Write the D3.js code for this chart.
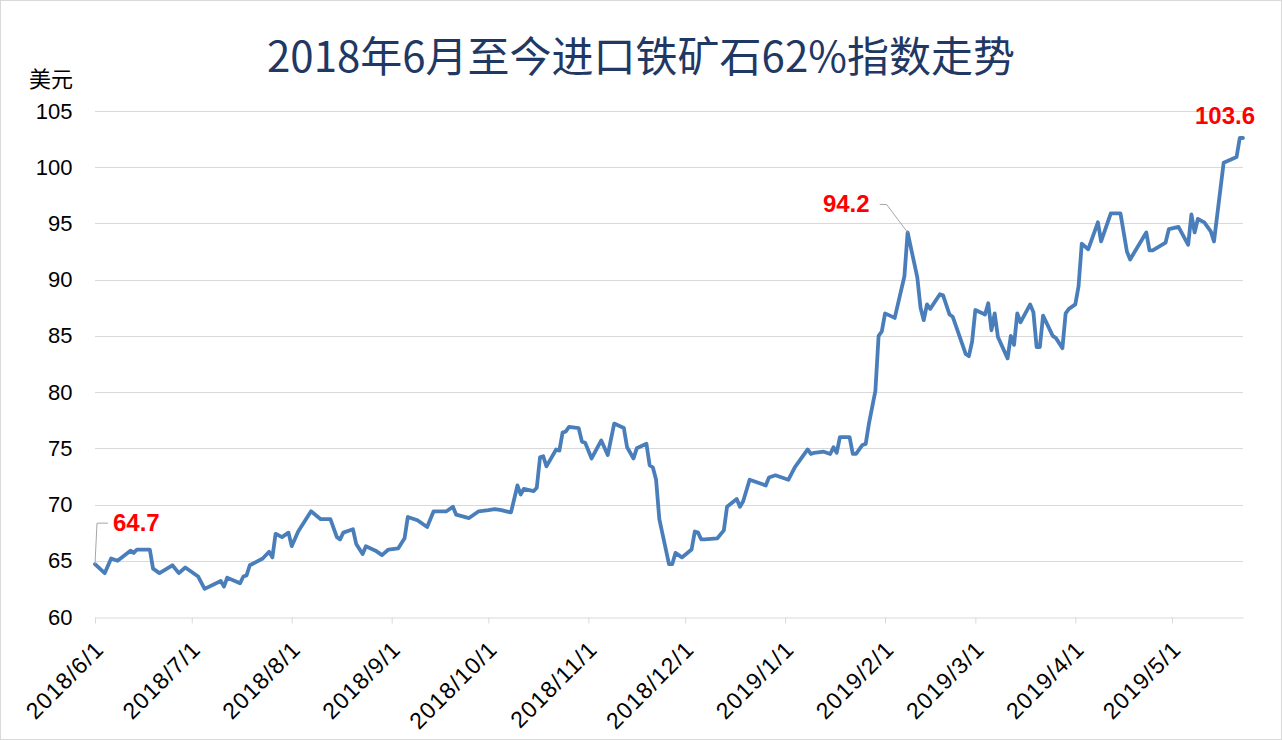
<!DOCTYPE html>
<html><head><meta charset="utf-8">
<script src="https://cdn.jsdelivr.net/npm/d3@7/dist/d3.min.js"></script>
<style>
html,body{margin:0;padding:0;background:#fff;}
svg{display:block;}
</style>
</head><body>
<svg id="chart" width="1282" height="740"></svg>
<script>
const title = "2018年6月至今进口铁矿石62%指数走势";
const yUnit = "美元";
const dates = ["2018-06-01","2018-06-04","2018-06-06","2018-06-08","2018-06-12","2018-06-13","2018-06-14","2018-06-18","2018-06-19","2018-06-21","2018-06-25","2018-06-27","2018-06-29","2018-07-03","2018-07-05","2018-07-10","2018-07-11","2018-07-12","2018-07-16","2018-07-17","2018-07-18","2018-07-19","2018-07-23","2018-07-25","2018-07-26","2018-07-27","2018-07-29","2018-07-31","2018-08-01","2018-08-03","2018-08-07","2018-08-10","2018-08-13","2018-08-15","2018-08-16","2018-08-17","2018-08-20","2018-08-21","2018-08-23","2018-08-24","2018-08-27","2018-08-29","2018-08-31","2018-09-03","2018-09-05","2018-09-06","2018-09-09","2018-09-12","2018-09-14","2018-09-18","2018-09-20","2018-09-21","2018-09-25","2018-09-28","2018-10-01","2018-10-03","2018-10-05","2018-10-08","2018-10-10","2018-10-11","2018-10-12","2018-10-15","2018-10-16","2018-10-17","2018-10-18","2018-10-19","2018-10-22","2018-10-23","2018-10-24","2018-10-25","2018-10-26","2018-10-29","2018-10-30","2018-10-31","2018-11-02","2018-11-05","2018-11-07","2018-11-09","2018-11-12","2018-11-13","2018-11-15","2018-11-16","2018-11-19","2018-11-20","2018-11-21","2018-11-22","2018-11-23","2018-11-26","2018-11-27","2018-11-28","2018-11-30","2018-12-03","2018-12-04","2018-12-05","2018-12-06","2018-12-07","2018-12-11","2018-12-13","2018-12-14","2018-12-17","2018-12-18","2018-12-19","2018-12-21","2018-12-26","2018-12-27","2018-12-29","2019-01-02","2019-01-04","2019-01-08","2019-01-09","2019-01-10","2019-01-13","2019-01-15","2019-01-16","2019-01-17","2019-01-18","2019-01-21","2019-01-22","2019-01-23","2019-01-25","2019-01-26","2019-01-27","2019-01-29","2019-01-30","2019-01-31","2019-02-01","2019-02-04","2019-02-07","2019-02-08","2019-02-11","2019-02-12","2019-02-13","2019-02-14","2019-02-15","2019-02-18","2019-02-19","2019-02-21","2019-02-22","2019-02-26","2019-02-27","2019-02-28","2019-03-01","2019-03-04","2019-03-05","2019-03-06","2019-03-07","2019-03-08","2019-03-11","2019-03-12","2019-03-13","2019-03-14","2019-03-15","2019-03-18","2019-03-19","2019-03-20","2019-03-21","2019-03-22","2019-03-25","2019-03-26","2019-03-28","2019-03-29","2019-03-30","2019-04-01","2019-04-02","2019-04-03","2019-04-05","2019-04-08","2019-04-09","2019-04-12","2019-04-15","2019-04-17","2019-04-18","2019-04-23","2019-04-24","2019-04-25","2019-04-29","2019-04-30","2019-05-03","2019-05-06","2019-05-07","2019-05-08","2019-05-09","2019-05-11","2019-05-13","2019-05-14","2019-05-17","2019-05-21","2019-05-22","2019-05-23"];
const values = [64.7,63.9,65.2,65.0,65.9,65.7,66.0,66.0,64.3,63.9,64.6,63.9,64.4,63.6,62.5,63.2,62.7,63.5,63.0,63.6,63.7,64.6,65.2,65.8,65.3,67.4,67.1,67.5,66.3,67.6,69.4,68.7,68.7,67.1,66.9,67.5,67.8,66.5,65.6,66.3,65.9,65.5,66.0,66.1,67.0,68.9,68.6,68.0,69.4,69.4,69.8,69.1,68.8,69.4,69.5,69.6,69.5,69.3,71.7,70.9,71.4,71.2,71.5,74.2,74.3,73.4,74.9,74.8,76.4,76.5,76.9,76.8,75.6,75.5,74.1,75.7,74.4,77.2,76.8,75.1,74.1,75.0,75.4,73.5,73.3,72.2,68.7,64.7,64.7,65.7,65.3,66.0,67.6,67.5,66.9,66.9,67.0,67.7,69.8,70.5,69.8,70.3,72.2,71.7,72.4,72.6,72.2,73.3,74.9,74.5,74.6,74.7,74.5,75.1,74.6,76.0,76.0,74.5,74.5,75.3,75.4,77.2,80.1,85.0,85.4,87.0,86.6,90.3,94.2,90.2,87.5,86.4,87.8,87.4,88.7,88.6,86.9,86.7,83.4,83.2,84.5,87.3,86.9,87.9,85.5,87.0,84.9,83.0,85.0,84.2,87.0,86.2,87.8,87.1,84.0,84.0,86.8,85.0,84.8,83.9,87.0,87.4,87.8,89.4,93.2,92.7,95.1,93.4,95.9,95.9,92.5,91.8,94.2,92.6,92.6,93.3,94.5,94.7,93.1,95.8,94.2,95.4,95.1,94.3,93.4,100.4,100.9,102.6,102.6];
const yTicks = [60,65,70,75,80,85,90,95,100,105];
const xTickLabels = ["2018/6/1","2018/7/1","2018/8/1","2018/9/1","2018/10/1","2018/11/1","2018/12/1","2019/1/1","2019/2/1","2019/3/1","2019/4/1","2019/5/1"];
const annotations = [
  {date:"2018-06-01", text:"64.7"},
  {date:"2019-02-08", text:"94.2"},
  {date:"2019-05-23", text:"103.6"}
];

const parse = d3.timeParse("%Y-%m-%d");
const parseTick = d3.timeParse("%Y/%m/%d");
const data = dates.map((d,i)=>({date:parse(d), value:values[i]}));

const svg = d3.select("#chart");
const W = 1282, H = 740;
const m = {left:95, right:39, top:111, bottom:123};
const numFont = "Liberation Sans, Arial, sans-serif";

svg.append("rect").attr("x",0.5).attr("y",0.5).attr("width",W-1).attr("height",H-1)
  .attr("fill","#fff").attr("stroke","#d9d9d9").attr("stroke-width",1);

const x = d3.scaleTime()
  .domain([parse("2018-06-01"), parse("2019-05-23")])
  .range([m.left, W - m.right]);
const y = d3.scaleLinear().domain([60,105]).range([H - m.bottom, m.top]);

// gridlines
svg.append("g").selectAll("line").data(yTicks.filter(t=>t>60)).join("line")
  .attr("x1", m.left).attr("x2", W - m.right)
  .attr("y1", d=>Math.round(y(d))+0.5).attr("y2", d=>Math.round(y(d))+0.5)
  .attr("stroke","#d9d9d9").attr("stroke-width",1);

// y axis labels
const yAxis = d3.axisLeft(y).tickValues(yTicks).tickSize(0).tickPadding(22.5);
const gy = svg.append("g").attr("transform",`translate(${m.left},0)`).call(yAxis);
gy.select(".domain").remove();
gy.selectAll("text").attr("font-family",numFont)
  .attr("font-size",22).attr("fill","#000");

svg.append("text").attr("x",51).attr("y",87).attr("text-anchor","middle")
  .attr("font-family","Noto Sans CJK SC, sans-serif").attr("font-size",22)
  .attr("fill","#000").text(yUnit);

// x axis
const xTicks = xTickLabels.map(s=>parseTick(s));
const xAxis = d3.axisBottom(x).tickValues(xTicks).tickSize(6).tickSizeOuter(0)
  .tickFormat(d3.timeFormat("%Y/%-m/%-d"));
const gx = svg.append("g").attr("transform",`translate(0,${Math.round(y(60))+0.5})`).call(xAxis);
gx.select(".domain").attr("stroke","#d9d9d9");
gx.selectAll(".tick line").attr("stroke","#d9d9d9");
gx.selectAll("text")
  .attr("font-family",numFont)
  .attr("font-size",23).attr("fill","#000")
  .attr("letter-spacing","1.2px")
  .attr("text-anchor","end")
  .attr("x",0).attr("y",0).attr("dy","0")
  .attr("transform","translate(10,33) rotate(-45)");

// line
const line = d3.line().x(d=>x(d.date)).y(d=>y(d.value));
svg.append("path").datum(data).attr("d",line)
  .attr("fill","none").attr("stroke","#4a7ebb").attr("stroke-width",3.8)
  .attr("stroke-linejoin","round").attr("stroke-linecap","round");

// annotations
const byDate = new Map(data.map(d=>[+d.date,d]));
const a0 = byDate.get(+parse(annotations[0].date));
const a1 = byDate.get(+parse(annotations[1].date));
const a2 = byDate.get(+parse(annotations[2].date));
const lblSize = 24;

svg.append("polyline")
  .attr("points", [[x(a0.date), y(a0.value)], [x(a0.date)+2, y(a0.value)-41], [x(a0.date)+13, y(a0.value)-41]].map(p=>p.join(",")).join(" "))
  .attr("fill","none").attr("stroke","#a6a6a6").attr("stroke-width",1);
svg.append("text").attr("x", x(a0.date)+18).attr("y", y(a0.value)-33)
  .attr("font-family",numFont).attr("font-size",lblSize).attr("font-weight","bold")
  .attr("fill","#ff0000").text(annotations[0].text);

svg.append("polyline")
  .attr("points", [[x(a1.date), y(a1.value)], [x(a1.date)-21, y(a1.value)-28], [x(a1.date)-28, y(a1.value)-28]].map(p=>p.join(",")).join(" "))
  .attr("fill","none").attr("stroke","#a6a6a6").attr("stroke-width",1);
svg.append("text").attr("x", x(a1.date)-38).attr("y", y(a1.value)-20)
  .attr("text-anchor","end")
  .attr("font-family",numFont).attr("font-size",lblSize).attr("font-weight","bold")
  .attr("fill","#ff0000").text(annotations[1].text);

svg.append("text").attr("x", x(a2.date)-18).attr("y", y(a2.value)-14)
  .attr("text-anchor","middle")
  .attr("font-family",numFont).attr("font-size",lblSize).attr("font-weight","bold")
  .attr("fill","#ff0000").text(annotations[2].text);

// title
svg.append("text").attr("x", 641).attr("y", 72).attr("text-anchor","middle")
  .attr("font-family","Noto Sans CJK SC, sans-serif").attr("font-size",42)
  .attr("fill","#1f3864").text(title);
</script>
</body></html>
